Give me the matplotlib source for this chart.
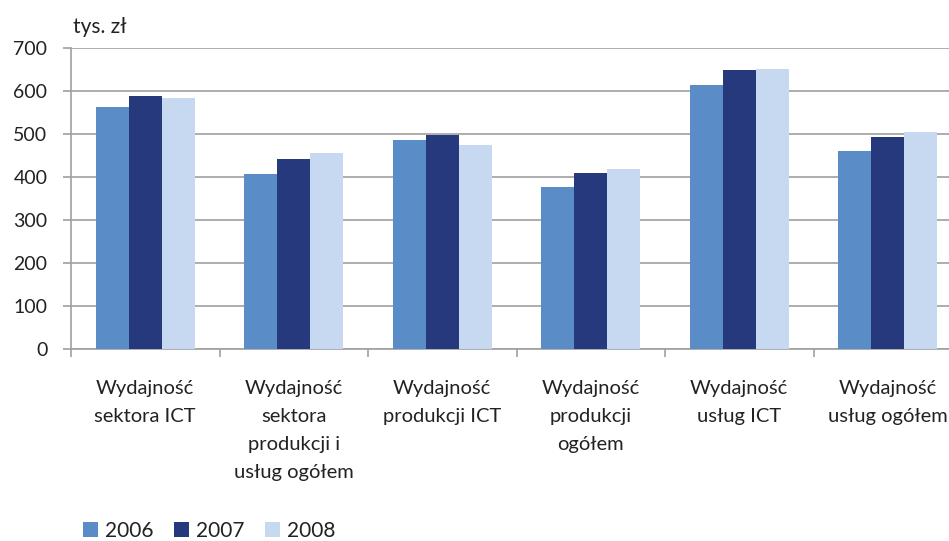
import matplotlib
matplotlib.use("Agg")
import matplotlib.pyplot as plt
import numpy as np
from matplotlib.patches import Patch

plt.rcParams['font.family'] = ['Lato', 'DejaVu Sans']

categories = ["Wydajność\nsektora ICT",
              "Wydajność\nsektora\nprodukcji i\nusług ogółem",
              "Wydajność\nprodukcji ICT",
              "Wydajność\nprodukcji\nogółem",
              "Wydajność\nusług ICT",
              "Wydajność\nusług ogółem"]
years = ["2006", "2007", "2008"]
v2006 = [563, 406, 485, 376, 613, 460]
v2007 = [588, 441, 497, 409, 649, 493]
v2008 = [583, 455, 474, 418, 651, 504]
yticks = [0, 100, 200, 300, 400, 500, 600, 700]
colors = ["#5A8CC8", "#25397C", "#C6D9F0"]

W, H = 949, 541
fig = plt.figure(figsize=(W/100, H/100), dpi=100)
left, right, bottom, top = 71, 962, 349, 48
ax = fig.add_axes([left/W, 1-bottom/H, (right-left)/W, (bottom-top)/H])

x = np.arange(len(categories))
bw = 0.222
for j, (vals, c) in enumerate(zip([v2006, v2007, v2008], colors)):
    ax.bar(x + (j-1)*bw, vals, width=bw, color=c, edgecolor='none', zorder=3)

ax.set_xlim(-0.5, len(categories)-0.5)
ax.set_ylim(0, 700)
ax.set_yticks(yticks)
ax.yaxis.grid(True, color="#A0A0A0", linewidth=1.2, zorder=0)
for s in ['top', 'right']:
    ax.spines[s].set_visible(False)
for s in ['left', 'bottom']:
    ax.spines[s].set_color("#A0A0A0")
    ax.spines[s].set_linewidth(1.2)

ax.tick_params(axis='y', length=6, width=1.2, color="#A0A0A0", pad=11,
               labelsize=14, labelcolor="#222222")
ax.set_xticks(x)
ax.set_xticklabels(categories, fontsize=14.5, color="#222222", linespacing=1.8,
                   va='top')
ax.tick_params(axis='x', which='major', length=0, pad=22)
ax.set_xticks(np.arange(len(categories)+1) - 0.5, minor=True)
ax.tick_params(axis='x', which='minor', length=6, width=1.2, color="#A0A0A0")

fig.text(73/W, 1-27/H, "tys. zł", fontsize=15, color="#222222", va='center', ha='left')

handles = [Patch(facecolor=c, edgecolor='none') for c in colors]
fig.legend(handles, years, loc='center left', bbox_to_anchor=(83/W, 1-531/H),
           ncol=3, frameon=False, fontsize=15, handlelength=0.7, handleheight=0.7,
           handletextpad=0.35, columnspacing=1.0, labelcolor="#222222",
           borderpad=0, borderaxespad=0)

fig.savefig("out.png", dpi=100)
